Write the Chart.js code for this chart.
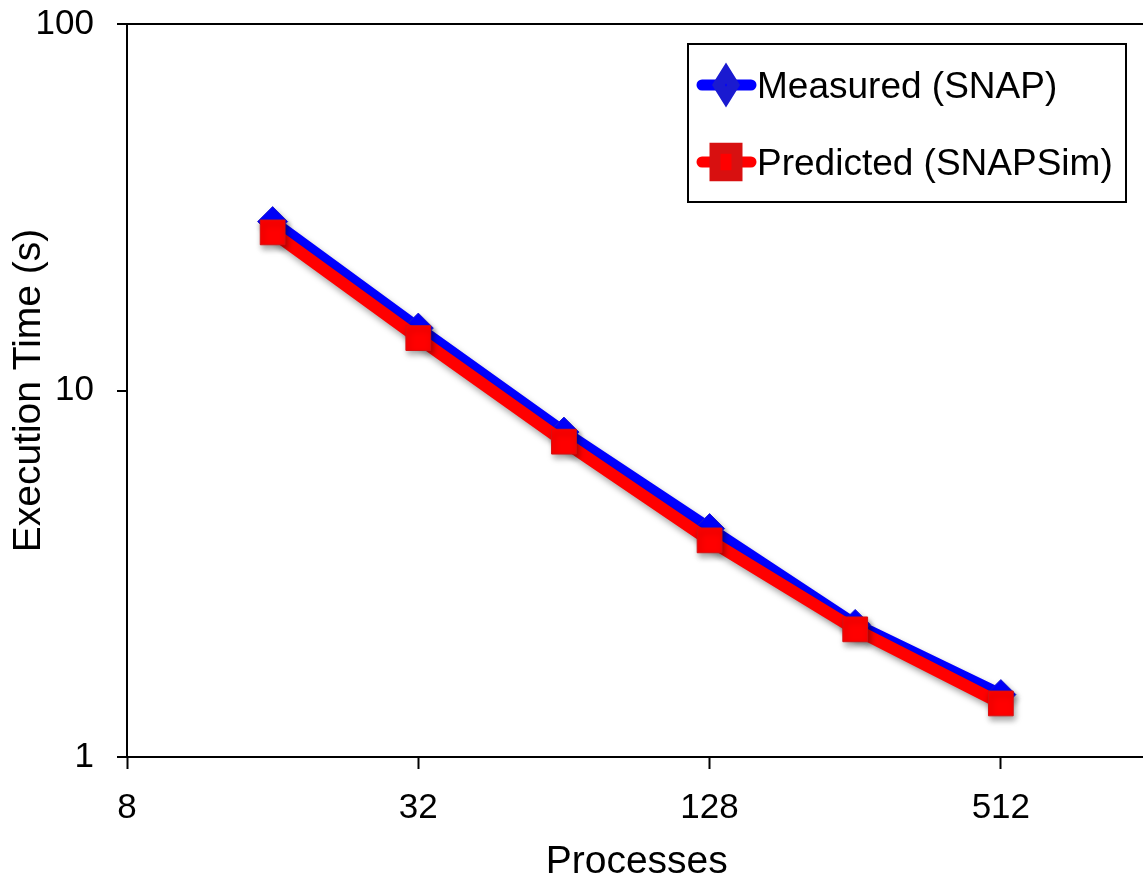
<!DOCTYPE html>
<html>
<head>
<meta charset="utf-8">
<script src="https://cdn.jsdelivr.net/npm/chart.js"></script>
<style>
  html, body { margin: 0; padding: 0; overflow: hidden; background: #fff; }
  canvas { display: block; }
</style>
</head>
<body>
<canvas id="myChart" width="1165" height="879"></canvas>
<script>
// data
const processes = [16, 32, 64, 128, 256, 512];
const measured = [28.9, 14.8, 7.7, 4.2, 2.3, 1.48];
const predicted = [27.0, 13.9, 7.25, 3.9, 2.23, 1.40];
const xTicks = [8, 32, 128, 512];
const yTicks = [1, 10, 100];
const seriesLabels = ["Measured (SNAP)", "Predicted (SNAPSim)"];

const FONT = "'Liberation Sans', Arial, sans-serif";

const toPoints = (ys) => processes.map((x, i) => ({ x: x, y: ys[i] }));

// soft drop shadow under lines and markers
const shadowPlugin = {
    id: "shadow",
    beforeDatasetsDraw(chart) {
        const c = chart.ctx;
        c.save();
        c.shadowColor = "rgba(0,0,0,0.35)";
        c.shadowBlur = 6;
        c.shadowOffsetX = 2;
        c.shadowOffsetY = 4;
    },
    afterDatasetsDraw(chart) {
        chart.ctx.restore();
    }
};

// boxed legend with line + marker samples
const boxLegend = {
    id: "boxLegend",
    afterDraw(chart) {
        const ctx = chart.ctx;
        const rows = [
            { ds: chart.data.datasets[0], y: 85, mw: 15, mr: 12 },
            { ds: chart.data.datasets[1], y: 162, mw: 22, mr: 19.5 }
        ];
        ctx.save();
        ctx.strokeStyle = "#000";
        ctx.lineWidth = 2;
        ctx.strokeRect(688, 44, 438, 158);
        rows.forEach(r => {
            ctx.strokeStyle = r.ds.borderColor;
            ctx.lineWidth = 11;
            ctx.lineCap = "round";
            ctx.beginPath();
            ctx.moveTo(702, r.y);
            ctx.lineTo(751, r.y);
            ctx.stroke();
            ctx.fillStyle = r.ds.pointBackgroundColor;
            ctx.strokeStyle = r.ds.pointBorderColor;
            const opts = { pointStyle: r.ds.pointStyle, radius: r.mr, borderWidth: 1, rotation: 0 };
            if (Chart.helpers.drawPointLegend) {
                Chart.helpers.drawPointLegend(ctx, opts, 726, r.y, r.mw);
            } else {
                Chart.helpers.drawPoint(ctx, opts, 726, r.y);
            }
            ctx.fillStyle = "#000";
            ctx.font = "37px " + FONT;
            ctx.textAlign = "left";
            ctx.textBaseline = "middle";
            ctx.fillText(r.ds.label, 757, r.y + 3);
        });
        ctx.restore();
    }
};

const myChartRef = document.getElementById("myChart").getContext("2d");

new Chart(myChartRef, {
    type: "line",
    data: {
        datasets: [
            {
                label: seriesLabels[0],
                data: toPoints(measured),
                borderColor: "#0000ff",
                borderWidth: 12,
                pointStyle: "rectRot",
                pointRadius: 15,
                pointBackgroundColor: "#0000ff",
                pointBorderColor: "#1a1ad0",
                pointBorderWidth: 1,
                order: 2
            },
            {
                label: seriesLabels[1],
                data: toPoints(predicted),
                borderColor: "#ff0000",
                borderWidth: 12,
                pointStyle: "rect",
                pointRadius: 17.5,
                pointBackgroundColor: "#ff0000",
                pointBorderColor: "#d81010",
                pointBorderWidth: 1,
                order: 1
            }
        ]
    },
    options: {
        responsive: false,
        animation: false,
        devicePixelRatio: 1,
        layout: { padding: { top: 24, right: 4, bottom: 0, left: 0 } },
        plugins: {
            legend: { display: false },
            tooltip: { enabled: false }
        },
        scales: {
            x: {
                type: "logarithmic",
                min: 8,
                max: 1024,
                afterBuildTicks: s => { s.ticks = xTicks.map(v => ({ value: v })); },
                afterFit: s => { s.height = 122; },
                border: { color: "#000", width: 2 },
                grid: { drawOnChartArea: false, tickLength: 12, tickColor: "#000", tickWidth: 2 },
                ticks: {
                    color: "#000",
                    font: { family: FONT, size: 35, lineHeight: 1 },
                    padding: 22,
                    maxRotation: 0,
                    autoSkip: false,
                    callback: v => String(v)
                },
                title: {
                    display: true,
                    text: "Processes",
                    color: "#000",
                    font: { family: FONT, size: 39, lineHeight: 1 },
                    padding: { top: 0, bottom: -3 }
                }
            },
            y: {
                type: "logarithmic",
                min: 1,
                max: 100,
                afterBuildTicks: s => { s.ticks = yTicks.map(v => ({ value: v })); },
                afterFit: s => { s.width = 127; s.paddingTop = 0; s.paddingBottom = 0; },
                border: { color: "#000", width: 2 },
                grid: {
                    drawOnChartArea: true,
                    color: c => (c.tick && c.tick.value === 100 ? "#000" : "rgba(0,0,0,0)"),
                    lineWidth: 2,
                    tickLength: 10,
                    tickColor: "#000",
                    tickWidth: 2
                },
                ticks: {
                    color: "#000",
                    font: { family: FONT, size: 35, lineHeight: 1 },
                    padding: 23,
                    callback: v => String(v)
                },
                title: {
                    display: true,
                    text: "Execution Time (s)",
                    color: "#000",
                    font: { family: FONT, size: 39, lineHeight: 1 },
                    padding: { top: 10, bottom: 0 }
                }
            }
        }
    },
    plugins: [shadowPlugin, boxLegend]
});
</script>
</body>
</html>
